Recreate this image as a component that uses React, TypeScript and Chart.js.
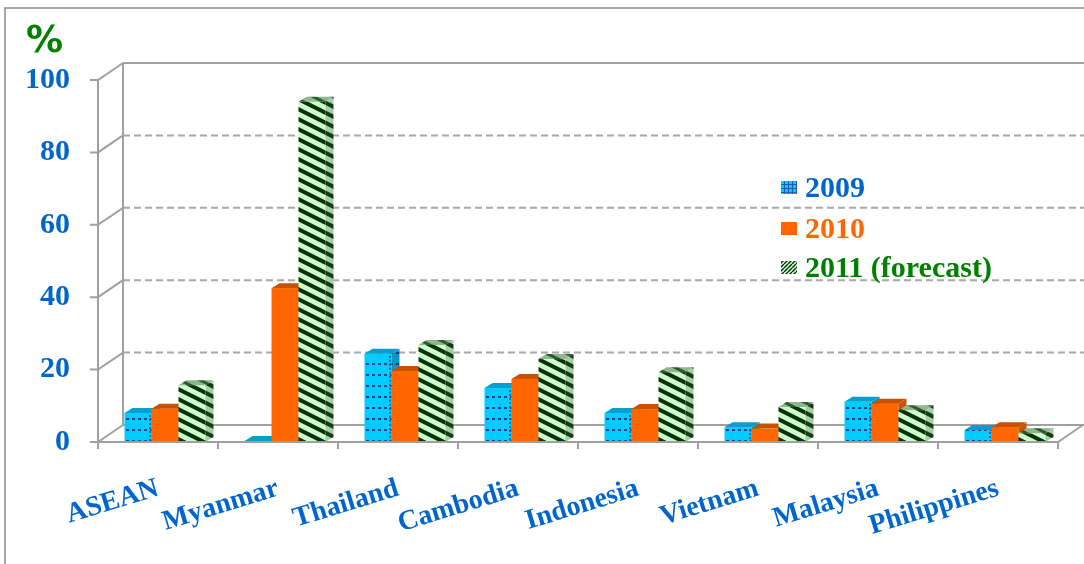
import React, { useEffect, useRef } from 'react';
import { Chart, registerables } from 'chart.js';

Chart.register(...registerables);

// ---- data ----
const categories = ['ASEAN', 'Myanmar', 'Thailand', 'Cambodia', 'Indonesia', 'Vietnam', 'Malaysia', 'Philippines'];
const series2009 = [8, 0.3, 24.4, 14.9, 8, 4.1, 11.1, 3.3];
const series2010 = [9.2, 42.5, 19.6, 17.4, 9.1, 3.7, 10.6, 4.1];
const series2011 = [15.7, 94, 26.8, 22.9, 19.3, 9.7, 8.8, 2.4];
const seriesLabels = ['2009', '2010', '2011 (forecast)'];
const yTickValues = [0, 20, 40, 60, 80, 100];
const unitLabel = '%';

const BLUE = '#0066CC';
const ORANGE = '#FF6600';
const GREEN = '#008000';
const GRAY = '#A0A0A0';

// 3D geometry
const WALL_DX = 25;
const WALL_DY = -17;
const BAR_DX = 8;
const BAR_DY = -5;
const FRONT_SHIFT = -7;

function tile(w: number, h: number, draw: (g: CanvasRenderingContext2D) => void) {
  const c = document.createElement('canvas');
  c.width = w;
  c.height = h;
  const g = c.getContext('2d')!;
  draw(g);
  return c;
}

function makePatterns(ctx: CanvasRenderingContext2D) {
  const cyanFront = ctx.createPattern(tile(6, 11, (g) => {
    g.fillStyle = '#00CCFF'; g.fillRect(0, 0, 6, 11);
    g.fillStyle = '#1F3F80'; g.fillRect(0, 0, 3, 2);
  }), 'repeat')!;
  const cyanSide = ctx.createPattern(tile(6, 11, (g) => {
    g.fillStyle = '#0A95C8'; g.fillRect(0, 0, 6, 11);
    g.fillStyle = '#16406E'; g.fillRect(0, 0, 3, 2);
  }), 'repeat')!;
  const stripes = (bg: string, fg: string, lw: number) => tile(20, 10, (g) => {
    g.fillStyle = bg; g.fillRect(0, 0, 20, 10);
    g.strokeStyle = fg; g.lineWidth = lw;
    for (let k = -2; k <= 2; k++) {
      g.beginPath(); g.moveTo(-2, k * 10 - 1); g.lineTo(22, 11 + k * 10); g.stroke();
    }
  });
  const greenFront = ctx.createPattern(stripes('#CCFFCC', '#0B300B', 4), 'repeat')!;
  const greenSide = ctx.createPattern(stripes('#A3CFA3', '#163A16', 4), 'repeat')!;
  const greenTop = ctx.createPattern(stripes('#8DB88D', '#2F5A2F', 3), 'repeat')!;
  const legendCyan = ctx.createPattern(tile(4, 4, (g) => {
    g.fillStyle = '#00CCFF'; g.fillRect(0, 0, 4, 4);
    g.fillStyle = '#1E5FA8'; g.fillRect(0, 0, 4, 1); g.fillRect(0, 0, 1, 4);
  }), 'repeat')!;
  const legendGreen = ctx.createPattern(tile(4, 4, (g) => {
    g.fillStyle = '#CCFFCC'; g.fillRect(0, 0, 4, 4);
    g.strokeStyle = '#0B300B'; g.lineWidth = 1.4;
    for (let k = -1; k <= 1; k++) { g.beginPath(); g.moveTo(k * 4, 4); g.lineTo(k * 4 + 4, 0); g.stroke(); }
  }), 'repeat')!;
  return { cyanFront, cyanSide, greenFront, greenSide, greenTop, legendCyan, legendGreen };
}

export default function App() {
  const ref = useRef<HTMLCanvasElement>(null);

  useEffect(() => {
    const canvas = ref.current!;
    const ctx0 = canvas.getContext('2d')!;
    const P = makePatterns(ctx0);

    const faces = [
      { front: P.cyanFront, top: '#0C9CCE', side: P.cyanSide, dotted: true },
      { front: ORANGE, top: '#C85000', side: '#D05200', dotted: false },
      { front: P.greenFront, top: P.greenTop, side: P.greenSide, dotted: false },
    ];

    const threeD = {
      id: 'threeD',
      beforeDraw(chart: any) {
        const { ctx } = chart;
        ctx.save();
        ctx.fillStyle = '#FFFFFF';
        ctx.fillRect(0, 0, chart.width, chart.height);
        ctx.strokeStyle = '#8C8C8C';
        ctx.lineWidth = 1.5;
        ctx.strokeRect(5, 8, chart.width + 20, chart.height + 20);
        ctx.fillStyle = GREEN;
        ctx.font = 'bold 37px "DejaVu Sans"';
        ctx.textBaseline = 'alphabetic';
        ctx.fillText(unitLabel, 26, 52);
        ctx.restore();
      },
      beforeDatasetsDraw(chart: any) {
        const { ctx, chartArea } = chart;
        const ys = chart.scales.y;
        const fx = chartArea.left + FRONT_SHIFT;
        const bx = fx + WALL_DX;
        const right = chart.width + 10;
        ctx.save();
        ctx.lineWidth = 2;
        ctx.strokeStyle = '#A8A8A8';
        ctx.setLineDash([7, 4]);
        yTickValues.forEach((v) => {
          if (v === 0 || v === 100) return;
          const y = ys.getPixelForValue(v) + WALL_DY;
          ctx.beginPath(); ctx.moveTo(bx, y); ctx.lineTo(right, y); ctx.stroke();
        });
        ctx.setLineDash([]);
        ctx.strokeStyle = GRAY;
        const yTopB = ys.getPixelForValue(100) + WALL_DY;
        const yBotB = ys.getPixelForValue(0) + WALL_DY;
        ctx.beginPath(); ctx.moveTo(bx, yTopB); ctx.lineTo(right, yTopB); ctx.stroke();
        ctx.beginPath(); ctx.moveTo(bx, yTopB); ctx.lineTo(bx, yBotB); ctx.lineTo(right, yBotB); ctx.stroke();
        const yTopF = ys.getPixelForValue(100);
        const yBotF = ys.getPixelForValue(0);
        ctx.beginPath(); ctx.moveTo(fx, yTopF); ctx.lineTo(fx, yBotF); ctx.stroke();
        yTickValues.forEach((v) => {
          const y = ys.getPixelForValue(v);
          ctx.beginPath(); ctx.moveTo(fx - 8, y); ctx.lineTo(fx, y); ctx.lineTo(bx, y + WALL_DY); ctx.stroke();
        });
        ctx.restore();
      },
      beforeDatasetDraw() {
        return false;
      },
      afterDatasetsDraw(chart: any) {
        const { ctx, chartArea } = chart;
        const metas = [0, 1, 2].map((i) => chart.getDatasetMeta(i));
        ctx.save();
        for (let c = 0; c < categories.length; c++) {
          for (let d = 0; d < 3; d++) {
            const el = metas[d].data[c];
            const { x, y, base, width } = el.getProps(['x', 'y', 'base', 'width'], true);
            const l = x - width / 2;
            const r = x + width / 2;
            const f = faces[d];
            ctx.fillStyle = f.front;
            ctx.fillRect(l, y, width, base - y);
            if (f.dotted && base - y > 4) {
              ctx.strokeStyle = '#1F3F80';
              ctx.lineWidth = 1.5;
              ctx.setLineDash([2, 2]);
              ctx.beginPath(); ctx.moveTo(r - 1.5, y + 2); ctx.lineTo(r - 1.5, base); ctx.stroke();
              ctx.setLineDash([]);
            }
            ctx.fillStyle = f.top;
            ctx.beginPath();
            ctx.moveTo(l, y); ctx.lineTo(r, y); ctx.lineTo(r + BAR_DX, y + BAR_DY); ctx.lineTo(l + BAR_DX, y + BAR_DY);
            ctx.closePath(); ctx.fill();
            ctx.fillStyle = f.side;
            ctx.beginPath();
            ctx.moveTo(r, y); ctx.lineTo(r + BAR_DX, y + BAR_DY); ctx.lineTo(r + BAR_DX, base + BAR_DY); ctx.lineTo(r, base);
            ctx.closePath(); ctx.fill();
          }
        }
        const xs = chart.scales.x;
        const ys = chart.scales.y;
        const fy = ys.getPixelForValue(0);
        const fx = chartArea.left + FRONT_SHIFT;
        const step = xs.getPixelForValue(1) - xs.getPixelForValue(0);
        const fxEnd = fx + step * categories.length;
        ctx.strokeStyle = GRAY;
        ctx.lineWidth = 2;
        ctx.beginPath(); ctx.moveTo(fx, fy); ctx.lineTo(fxEnd, fy); ctx.lineTo(fxEnd + WALL_DX, fy + WALL_DY); ctx.stroke();
        for (let i = 0; i <= categories.length; i++) {
          const tx = fx + step * i;
          ctx.beginPath(); ctx.moveTo(tx, fy); ctx.lineTo(tx, fy + 7); ctx.stroke();
        }
        ctx.restore();
      },
      afterDraw(chart: any) {
        const { ctx } = chart;
        const items = [
          { fill: P.legendCyan, color: BLUE, y: 188 },
          { fill: ORANGE, color: ORANGE, y: 229 },
          { fill: P.legendGreen, color: GREEN, y: 268 },
        ];
        ctx.save();
        ctx.font = 'bold 30px "Liberation Serif"';
        ctx.textBaseline = 'middle';
        items.forEach((it, i) => {
          ctx.fillStyle = it.fill;
          ctx.fillRect(781, it.y - 7, 16, 13);
          ctx.fillStyle = it.color;
          ctx.fillText(seriesLabels[i], 805, it.y + 1);
        });
        ctx.restore();
      },
    };

    const chart = new Chart(canvas, {
      type: 'bar',
      data: {
        labels: categories,
        datasets: [
          { label: seriesLabels[0], data: series2009, backgroundColor: '#00CCFF' },
          { label: seriesLabels[1], data: series2010, backgroundColor: ORANGE },
          { label: seriesLabels[2], data: series2011, backgroundColor: '#CCFFCC' },
        ],
      },
      options: {
        responsive: false,
        animation: false,
        layout: { padding: { top: 80, right: 19, left: 0, bottom: 0 } },
        datasets: { bar: { barPercentage: 1, categoryPercentage: 0.675 } },
        plugins: { legend: { display: false }, tooltip: { enabled: false } },
        scales: {
          x: {
            grid: { display: false, drawTicks: false },
            border: { display: false },
            ticks: {
              color: BLUE,
              font: { family: '"Liberation Serif"', size: 28, weight: 'bold' },
              minRotation: 17,
              maxRotation: 17,
              autoSkip: false,
              padding: 30,
              labelOffset: -7,
            },
            afterFit: (s: any) => { s.height = 122; },
          },
          y: {
            min: 0,
            max: 100,
            grid: { display: false, drawTicks: false },
            border: { display: false },
            ticks: {
              stepSize: 20,
              color: BLUE,
              font: { family: '"Liberation Serif"', size: 30, weight: 'bold' },
              padding: 35,
            },
            afterFit: (s: any) => { s.width = 105; },
          },
        },
      },
      plugins: [threeD],
    } as any);

    return () => chart.destroy();
  }, []);

  return (
    <div style={{ position: 'fixed', left: 0, top: 0, width: 1084, height: 564 }}>
      <canvas ref={ref} width={1084} height={564} style={{ display: 'block' }} />
    </div>
  );
}
